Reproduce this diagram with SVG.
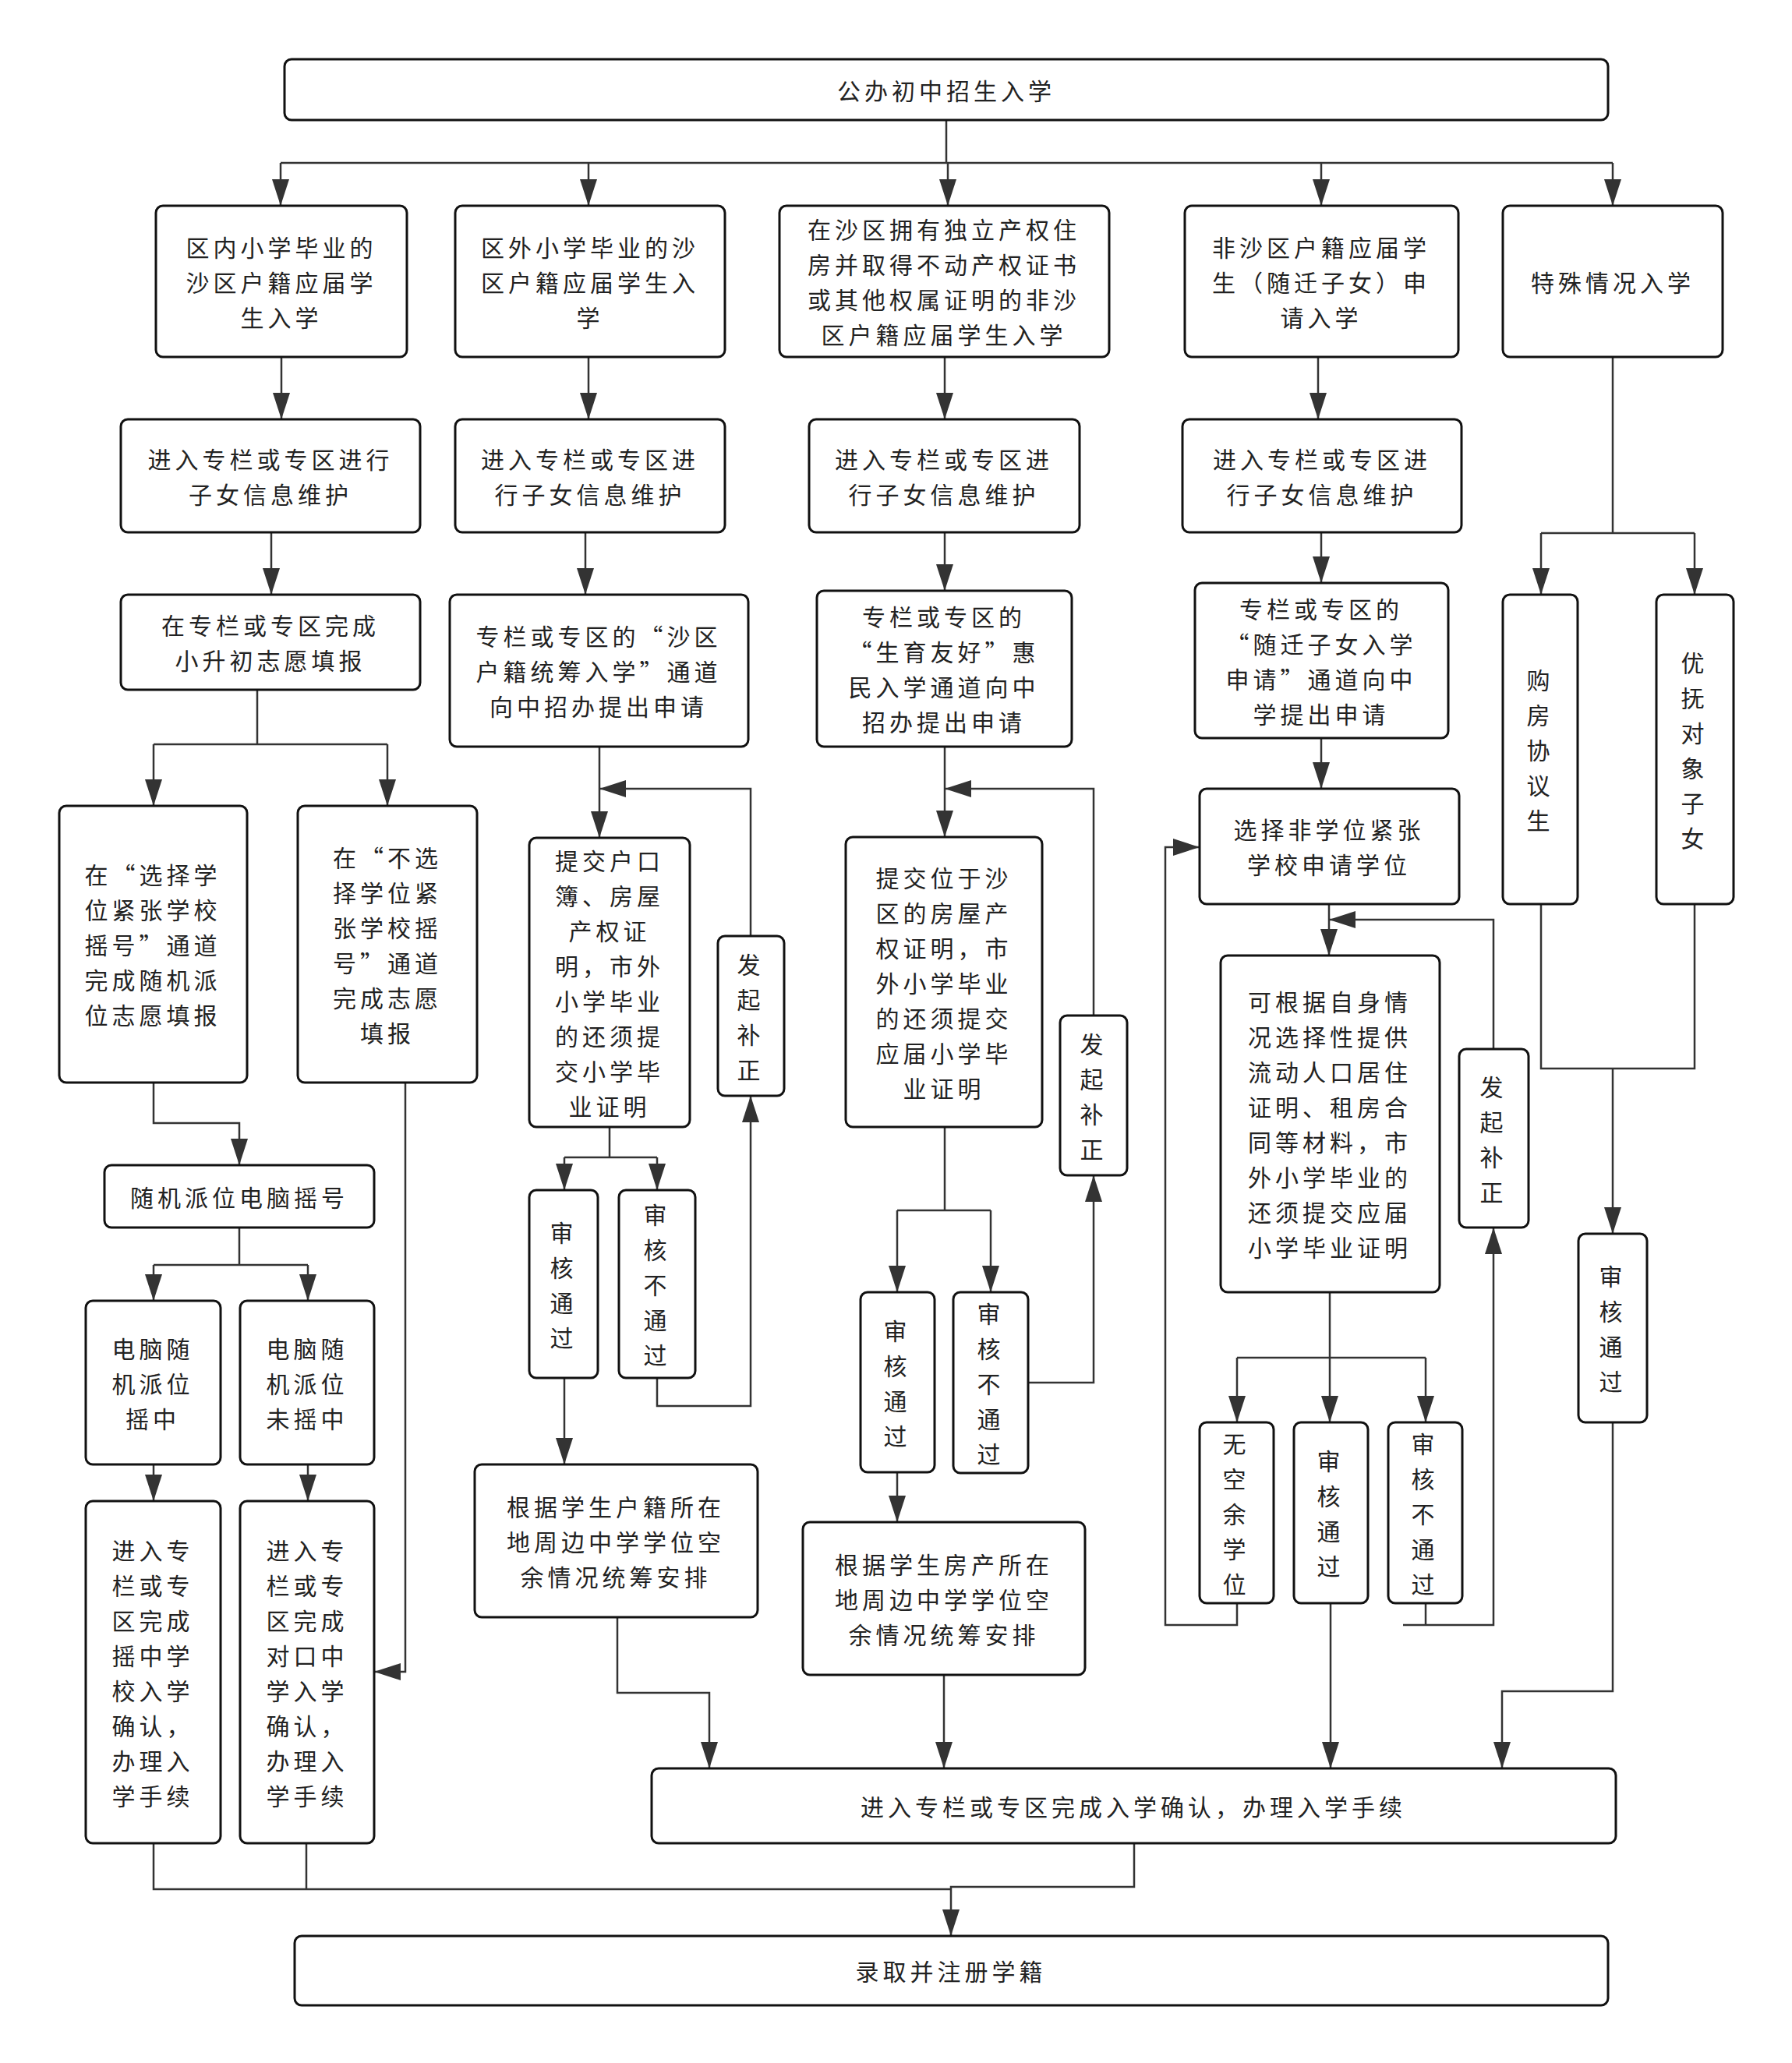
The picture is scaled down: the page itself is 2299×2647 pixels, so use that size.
<svg xmlns="http://www.w3.org/2000/svg" width="2299" height="2647" viewBox="0 0 2299 2647">
<defs>
<style>
.box{fill:#fff;stroke:#111;stroke-width:3}
.t{font-family:"Noto Sans CJK SC","Noto Sans CJK TC",sans-serif;font-size:30px;fill:#222;letter-spacing:5px;text-anchor:middle;dominant-baseline:central}
.c{fill:none;stroke:#333;stroke-width:2.5}
.a{fill:none;stroke:#333;stroke-width:2.5;marker-end:url(#arr)}
</style>
<marker id="arr" markerUnits="userSpaceOnUse" markerWidth="34" markerHeight="22" viewBox="0 0 34 22" refX="34" refY="11" orient="auto">
<path d="M0,0 L34,11 L0,22 Z" fill="#333"/>
</marker>
</defs>
<rect width="2299" height="2647" fill="#fff"/>

<g id="connectors">
<path class="c" d="M1214,154 V209 M360,209 H2069"/>
<path class="a" d="M360,209 V264"/>
<path class="a" d="M755,209 V264"/>
<path class="a" d="M1216,209 V264"/>
<path class="a" d="M1695,209 V264"/>
<path class="a" d="M2069,209 V264"/>
<path class="a" d="M361,458 V538"/>
<path class="a" d="M755,458 V538"/>
<path class="a" d="M1212,458 V538"/>
<path class="a" d="M1691,458 V538"/>
<path class="a" d="M348,683 V763"/>
<path class="a" d="M751,683 V763"/>
<path class="a" d="M1212,683 V758"/>
<path class="a" d="M1695,683 V748"/>
<!-- col1 -->
<path class="c" d="M330,885 V955 M197,955 H497"/>
<path class="a" d="M197,955 V1034"/>
<path class="a" d="M497,955 V1034"/>
<path class="a" d="M197,1389 V1441 H307 V1495"/>
<path class="a" d="M520,1389 V2145 H480"/>
<path class="c" d="M307,1575 V1623 M197,1623 H395"/>
<path class="a" d="M197,1623 V1669"/>
<path class="a" d="M395,1623 V1669"/>
<path class="a" d="M197,1879 V1926"/>
<path class="a" d="M395,1879 V1926"/>
<path class="c" d="M197,2365 V2424 H1220 M393,2365 V2424"/>
<!-- col2 -->
<path class="a" d="M769,958 V1075"/>
<path class="a" d="M963,1201 V1012 H769"/>
<path class="c" d="M782,1446 V1485 M724,1485 H843"/>
<path class="a" d="M724,1485 V1527"/>
<path class="a" d="M843,1485 V1527"/>
<path class="a" d="M843,1768 V1804 H963 V1406"/>
<path class="a" d="M724,1768 V1879"/>
<path class="a" d="M792,2075 V2172 H910 V2269"/>
<!-- col3 -->
<path class="a" d="M1212,958 V1074"/>
<path class="a" d="M1403,1303 V1012 H1212"/>
<path class="c" d="M1212,1446 V1553 M1151,1553 H1271"/>
<path class="a" d="M1151,1553 V1658"/>
<path class="a" d="M1271,1553 V1658"/>
<path class="a" d="M1319,1774 H1403 V1508"/>
<path class="a" d="M1151,1889 V1953"/>
<path class="a" d="M1211,2149 V2269"/>
<!-- col4 -->
<path class="a" d="M1695,947 V1012"/>
<path class="a" d="M1705,1160 V1226"/>
<path class="a" d="M1916,1346 V1180 H1705"/>
<path class="c" d="M1706,1658 V1742 M1587,1742 H1829"/>
<path class="a" d="M1587,1742 V1825"/>
<path class="a" d="M1706,1742 V1825"/>
<path class="a" d="M1829,1742 V1825"/>
<path class="a" d="M1587,2057 V2085 H1495 V1087 H1539"/>
<path class="c" d="M1829,2057 V2085"/>
<path class="a" d="M1800,2085 H1916 V1575"/>
<path class="a" d="M1707,2057 V2269"/>
<!-- col5 -->
<path class="c" d="M2069,458 V684 M1977,684 H2174"/>
<path class="a" d="M1977,684 V763"/>
<path class="a" d="M2174,684 V763"/>
<path class="c" d="M1977,1160 V1371 H2174 V1160"/>
<path class="a" d="M2069,1371 V1583"/>
<path class="a" d="M2069,1825 V2170 H1927 V2269"/>
<!-- to final -->
<path class="a" d="M1455,2365 V2421 H1220 V2484"/>
</g>

<g id="n-top"><rect class="box" x="365" y="76" width="1698" height="78" rx="9"/><text class="t" x="1214" y="115">公办初中招生入学</text></g>

<g id="n-r1b1"><rect class="box" x="200" y="264" width="322" height="194" rx="9"/><text class="t"><tspan x="361" y="316">区内小学毕业的</tspan><tspan x="361" y="361">沙区户籍应届学</tspan><tspan x="361" y="406">生入学</tspan></text></g>
<g id="n-r1b2"><rect class="box" x="584" y="264" width="346" height="194" rx="9"/><text class="t"><tspan x="757" y="316">区外小学毕业的沙</tspan><tspan x="757" y="361">区户籍应届学生入</tspan><tspan x="757" y="406">学</tspan></text></g>
<g id="n-r1b3"><rect class="box" x="1000" y="264" width="423" height="194" rx="9"/><text class="t"><tspan x="1211" y="293">在沙区拥有独立产权住</tspan><tspan x="1211" y="338">房并取得不动产权证书</tspan><tspan x="1211" y="383">或其他权属证明的非沙</tspan><tspan x="1211" y="428">区户籍应届学生入学</tspan></text></g>
<g id="n-r1b4"><rect class="box" x="1520" y="264" width="351" height="194" rx="9"/><text class="t"><tspan x="1695" y="316">非沙区户籍应届学</tspan><tspan x="1695" y="361">生（随迁子女）申</tspan><tspan x="1695" y="406">请入学</tspan></text></g>
<g id="n-r1b5"><rect class="box" x="1928" y="264" width="282" height="194" rx="9"/><text class="t" x="2069" y="361">特殊情况入学</text></g>

<g id="n-r2b1"><rect class="box" x="155" y="538" width="384" height="145" rx="9"/><text class="t"><tspan x="347" y="588">进入专栏或专区进行</tspan><tspan x="347" y="633">子女信息维护</tspan></text></g>
<g id="n-r2b2"><rect class="box" x="584" y="538" width="346" height="145" rx="9"/><text class="t"><tspan x="757" y="588">进入专栏或专区进</tspan><tspan x="757" y="633">行子女信息维护</tspan></text></g>
<g id="n-r2b3"><rect class="box" x="1038" y="538" width="347" height="145" rx="9"/><text class="t"><tspan x="1211" y="588">进入专栏或专区进</tspan><tspan x="1211" y="633">行子女信息维护</tspan></text></g>
<g id="n-r2b4"><rect class="box" x="1517" y="538" width="358" height="145" rx="9"/><text class="t"><tspan x="1696" y="588">进入专栏或专区进</tspan><tspan x="1696" y="633">行子女信息维护</tspan></text></g>

<g id="n-c1"><rect class="box" x="155" y="763" width="384" height="122" rx="9"/><text class="t"><tspan x="347" y="801">在专栏或专区完成</tspan><tspan x="347" y="846">小升初志愿填报</tspan></text></g>
<g id="n-c2"><rect class="box" x="577" y="763" width="383" height="195" rx="9"/><text class="t"><tspan x="768" y="815">专栏或专区的“沙区</tspan><tspan x="768" y="860">户籍统筹入学”通道</tspan><tspan x="768" y="905">向中招办提出申请</tspan></text></g>
<g id="n-c3"><rect class="box" x="1048" y="758" width="327" height="200" rx="9"/><text class="t"><tspan x="1211" y="790">专栏或专区的</tspan><tspan x="1211" y="835">“生育友好”惠</tspan><tspan x="1211" y="880">民入学通道向中</tspan><tspan x="1211" y="925">招办提出申请</tspan></text></g>
<g id="n-c4"><rect class="box" x="1533" y="748" width="325" height="199" rx="9"/><text class="t"><tspan x="1695" y="780">专栏或专区的</tspan><tspan x="1695" y="825">“随迁子女入学</tspan><tspan x="1695" y="870">申请”通道向中</tspan><tspan x="1695" y="915">学提出申请</tspan></text></g>

<g id="n-lottery"><rect class="box" x="76" y="1034" width="241" height="355" rx="9"/><text class="t"><tspan x="196" y="1121">在“选择学</tspan><tspan x="196" y="1166">位紧张学校</tspan><tspan x="196" y="1211">摇号”通道</tspan><tspan x="196" y="1256">完成随机派</tspan><tspan x="196" y="1301">位志愿填报</tspan></text></g>
<g id="n-nolottery"><rect class="box" x="382" y="1034" width="230" height="355" rx="9"/><text class="t"><tspan x="497" y="1099">在“不选</tspan><tspan x="497" y="1144">择学位紧</tspan><tspan x="497" y="1189">张学校摇</tspan><tspan x="497" y="1234">号”通道</tspan><tspan x="497" y="1279">完成志愿</tspan><tspan x="497" y="1324">填报</tspan></text></g>
<g id="n-draw"><rect class="box" x="134" y="1495" width="346" height="80" rx="9"/><text class="t" x="307" y="1535">随机派位电脑摇号</text></g>
<g id="n-hit"><rect class="box" x="110" y="1669" width="173" height="210" rx="9"/><text class="t"><tspan x="196" y="1729">电脑随</tspan><tspan x="196" y="1774">机派位</tspan><tspan x="196" y="1819">摇中</tspan></text></g>
<g id="n-miss"><rect class="box" x="308" y="1669" width="172" height="210" rx="9"/><text class="t"><tspan x="394" y="1729">电脑随</tspan><tspan x="394" y="1774">机派位</tspan><tspan x="394" y="1819">未摇中</tspan></text></g>
<g id="n-hitconfirm"><rect class="box" x="110" y="1926" width="173" height="439" rx="9"/><text class="t"><tspan x="196" y="1988">进入专</tspan><tspan x="196" y="2033">栏或专</tspan><tspan x="196" y="2078">区完成</tspan><tspan x="196" y="2123">摇中学</tspan><tspan x="196" y="2168">校入学</tspan><tspan x="196" y="2213">确认，</tspan><tspan x="196" y="2258">办理入</tspan><tspan x="196" y="2303">学手续</tspan></text></g>
<g id="n-missconfirm"><rect class="box" x="308" y="1926" width="172" height="439" rx="9"/><text class="t"><tspan x="394" y="1988">进入专</tspan><tspan x="394" y="2033">栏或专</tspan><tspan x="394" y="2078">区完成</tspan><tspan x="394" y="2123">对口中</tspan><tspan x="394" y="2168">学入学</tspan><tspan x="394" y="2213">确认，</tspan><tspan x="394" y="2258">办理入</tspan><tspan x="394" y="2303">学手续</tspan></text></g>

<g id="n-c2submit"><rect class="box" x="679" y="1075" width="206" height="371" rx="9"/><text class="t"><tspan x="782" y="1103">提交户口</tspan><tspan x="782" y="1148">簿、房屋</tspan><tspan x="782" y="1193">产权证</tspan><tspan x="782" y="1238">明，市外</tspan><tspan x="782" y="1283">小学毕业</tspan><tspan x="782" y="1328">的还须提</tspan><tspan x="782" y="1373">交小学毕</tspan><tspan x="782" y="1418">业证明</tspan></text></g>
<g id="n-c2fix"><rect class="box" x="921" y="1201" width="85" height="205" rx="9"/><text class="t"><tspan x="963" y="1236">发</tspan><tspan x="963" y="1281">起</tspan><tspan x="963" y="1326">补</tspan><tspan x="963" y="1371">正</tspan></text></g>
<g id="n-c2pass"><rect class="box" x="679" y="1527" width="88" height="241" rx="9"/><text class="t"><tspan x="723" y="1580">审</tspan><tspan x="723" y="1625">核</tspan><tspan x="723" y="1670">通</tspan><tspan x="723" y="1715">过</tspan></text></g>
<g id="n-c2fail"><rect class="box" x="794" y="1527" width="98" height="241" rx="9"/><text class="t"><tspan x="843" y="1557">审</tspan><tspan x="843" y="1602">核</tspan><tspan x="843" y="1647">不</tspan><tspan x="843" y="1692">通</tspan><tspan x="843" y="1737">过</tspan></text></g>
<g id="n-c2arrange"><rect class="box" x="609" y="1879" width="363" height="196" rx="9"/><text class="t"><tspan x="790" y="1932">根据学生户籍所在</tspan><tspan x="790" y="1977">地周边中学学位空</tspan><tspan x="790" y="2022">余情况统筹安排</tspan></text></g>

<g id="n-c3submit"><rect class="box" x="1085" y="1074" width="252" height="372" rx="9"/><text class="t"><tspan x="1211" y="1125">提交位于沙</tspan><tspan x="1211" y="1170">区的房屋产</tspan><tspan x="1211" y="1215">权证明，市</tspan><tspan x="1211" y="1260">外小学毕业</tspan><tspan x="1211" y="1305">的还须提交</tspan><tspan x="1211" y="1350">应届小学毕</tspan><tspan x="1211" y="1395">业证明</tspan></text></g>
<g id="n-c3fix"><rect class="box" x="1360" y="1303" width="86" height="205" rx="9"/><text class="t"><tspan x="1403" y="1338">发</tspan><tspan x="1403" y="1383">起</tspan><tspan x="1403" y="1428">补</tspan><tspan x="1403" y="1473">正</tspan></text></g>
<g id="n-c3pass"><rect class="box" x="1104" y="1658" width="95" height="231" rx="9"/><text class="t"><tspan x="1151" y="1706">审</tspan><tspan x="1151" y="1751">核</tspan><tspan x="1151" y="1796">通</tspan><tspan x="1151" y="1841">过</tspan></text></g>
<g id="n-c3fail"><rect class="box" x="1223" y="1658" width="96" height="232" rx="9"/><text class="t"><tspan x="1271" y="1684">审</tspan><tspan x="1271" y="1729">核</tspan><tspan x="1271" y="1774">不</tspan><tspan x="1271" y="1819">通</tspan><tspan x="1271" y="1864">过</tspan></text></g>
<g id="n-c3arrange"><rect class="box" x="1030" y="1953" width="362" height="196" rx="9"/><text class="t"><tspan x="1211" y="2006">根据学生房产所在</tspan><tspan x="1211" y="2051">地周边中学学位空</tspan><tspan x="1211" y="2096">余情况统筹安排</tspan></text></g>

<g id="n-c4choose"><rect class="box" x="1539" y="1012" width="333" height="148" rx="9"/><text class="t"><tspan x="1705" y="1063">选择非学位紧张</tspan><tspan x="1705" y="1108">学校申请学位</tspan></text></g>
<g id="n-c4submit"><rect class="box" x="1566" y="1226" width="281" height="432" rx="9"/><text class="t"><tspan x="1706" y="1284">可根据自身情</tspan><tspan x="1706" y="1329">况选择性提供</tspan><tspan x="1706" y="1374">流动人口居住</tspan><tspan x="1706" y="1419">证明、租房合</tspan><tspan x="1706" y="1464">同等材料，市</tspan><tspan x="1706" y="1509">外小学毕业的</tspan><tspan x="1706" y="1554">还须提交应届</tspan><tspan x="1706" y="1599">小学毕业证明</tspan></text></g>
<g id="n-c4fix"><rect class="box" x="1872" y="1346" width="89" height="229" rx="9"/><text class="t"><tspan x="1916" y="1393">发</tspan><tspan x="1916" y="1438">起</tspan><tspan x="1916" y="1483">补</tspan><tspan x="1916" y="1528">正</tspan></text></g>
<g id="n-c4none"><rect class="box" x="1539" y="1825" width="95" height="232" rx="9"/><text class="t"><tspan x="1586" y="1851">无</tspan><tspan x="1586" y="1896">空</tspan><tspan x="1586" y="1941">余</tspan><tspan x="1586" y="1986">学</tspan><tspan x="1586" y="2031">位</tspan></text></g>
<g id="n-c4pass"><rect class="box" x="1660" y="1825" width="95" height="232" rx="9"/><text class="t"><tspan x="1707" y="1873">审</tspan><tspan x="1707" y="1918">核</tspan><tspan x="1707" y="1963">通</tspan><tspan x="1707" y="2008">过</tspan></text></g>
<g id="n-c4fail"><rect class="box" x="1781" y="1825" width="95" height="232" rx="9"/><text class="t"><tspan x="1828" y="1851">审</tspan><tspan x="1828" y="1896">核</tspan><tspan x="1828" y="1941">不</tspan><tspan x="1828" y="1986">通</tspan><tspan x="1828" y="2031">过</tspan></text></g>

<g id="n-c5buy"><rect class="box" x="1928" y="763" width="96" height="397" rx="9"/><text class="t"><tspan x="1976" y="871">购</tspan><tspan x="1976" y="916">房</tspan><tspan x="1976" y="961">协</tspan><tspan x="1976" y="1006">议</tspan><tspan x="1976" y="1051">生</tspan></text></g>
<g id="n-c5care"><rect class="box" x="2125" y="763" width="99" height="397" rx="9"/><text class="t"><tspan x="2174" y="849">优</tspan><tspan x="2174" y="894">抚</tspan><tspan x="2174" y="939">对</tspan><tspan x="2174" y="984">象</tspan><tspan x="2174" y="1029">子</tspan><tspan x="2174" y="1074">女</tspan></text></g>
<g id="n-c5pass"><rect class="box" x="2025" y="1583" width="88" height="242" rx="9"/><text class="t"><tspan x="2069" y="1636">审</tspan><tspan x="2069" y="1681">核</tspan><tspan x="2069" y="1726">通</tspan><tspan x="2069" y="1771">过</tspan></text></g>

<g id="n-confirm"><rect class="box" x="836" y="2269" width="1237" height="96" rx="9"/><text class="t" x="1454" y="2317">进入专栏或专区完成入学确认，办理入学手续</text></g>
<g id="n-final"><rect class="box" x="378" y="2484" width="1685" height="89" rx="9"/><text class="t" x="1220" y="2528">录取并注册学籍</text></g>
</svg>
